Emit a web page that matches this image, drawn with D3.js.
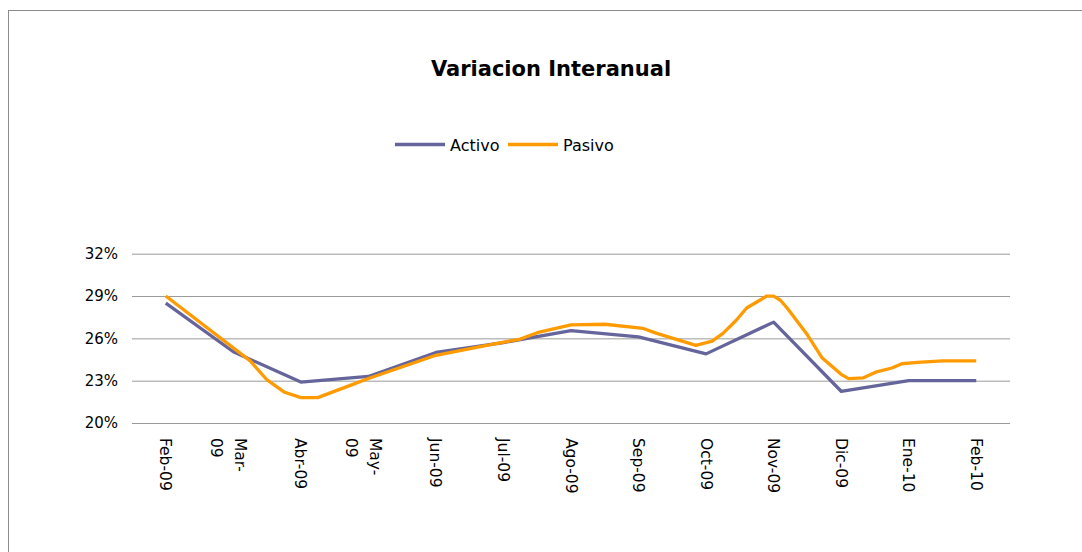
<!DOCTYPE html>
<html>
<head>
<meta charset="utf-8">
<script src="https://cdn.jsdelivr.net/npm/d3@7"></script>
<style>
  body { margin: 0; background: #fff; }
  svg { display: block; font-family: "DejaVu Sans", sans-serif; }
  .chart-title { font-size: 21px; font-weight: bold; }
  .axis text { font-size: 15.5px; fill: #000; }
  .legend text { font-size: 16px; }
</style>
</head>
<body>
<svg width="1082" height="552"></svg>
<script>
const svg = d3.select("svg");

const width = 1082;
const height = 552;

// categories (monthly)
const months = ["Feb-09", "Mar-\n09", "Abr-09", "May-\n09", "Jun-09", "Jul-09", "Ago-09",
    "Sep-09", "Oct-09", "Nov-09", "Dic-09", "Ene-10", "Feb-10"];

// Activo, one value per month (%)
const activo = [28.5, 25.05, 22.9, 23.3, 25.0, 25.7, 26.55, 26.1, 24.9, 27.15, 22.25, 23.0, 23.0];

// Pasivo comes in finer steps: position in months from Feb-09, and value (%)
const pasivoPos = [0, 1.25, 1.5, 1.75, 2, 2.25, 2.75, 3, 4, 4.75, 5.25, 5.5, 6, 6.5, 7.07, 7.27,
    7.85, 8.09, 8.25, 8.45, 8.6, 8.9, 9, 9.1, 9.2, 9.5, 9.72, 10, 10.11, 10.33, 10.51, 10.75,
    10.9, 11.13, 11.5, 12];
const pasivo = [29.0, 24.4, 23.05, 22.2, 21.8, 21.8, 22.7, 23.15, 24.8, 25.5, 25.95, 26.4, 26.95,
    27.0, 26.7, 26.35, 25.5, 25.8, 26.35, 27.3, 28.15, 29.0, 29.0, 28.7, 28.15, 26.25, 24.6,
    23.45, 23.15, 23.2, 23.6, 23.9, 24.2, 24.3, 24.4, 24.4];

const yTicks = [20, 23, 26, 29, 32];

const plot = { left: 132, right: 1010, top: 253.7, bottom: 423 };

// outer frame (runs off the right and bottom edges)
svg.append("rect")
    .attr("x", 8.5)
    .attr("y", 10.5)
    .attr("width", 1200)
    .attr("height", 700)
    .attr("fill", "none")
    .attr("stroke", "#8c8c8c")
    .attr("stroke-width", 1);

const xScale = d3.scaleLinear()
    .domain([-0.5, months.length - 0.5])
    .range([plot.left, plot.right]);

const yScale = d3.scaleLinear()
    .domain([20, 32])
    .range([plot.bottom, plot.top]);

// gridlines + y labels
const yAxis = d3.axisLeft(yScale)
    .tickValues(yTicks)
    .tickFormat(d => d + "%")
    .tickSize(-(plot.right - plot.left))
    .tickPadding(14);

const gy = svg.append("g")
    .attr("class", "axis")
    .attr("transform", `translate(${plot.left}, 0)`)
    .call(yAxis)
    .attr("font-family", null)
    .attr("font-size", null);
gy.select(".domain").remove();
gy.selectAll(".tick line").attr("stroke", "#9a9a9a");
gy.selectAll(".tick text").style("font-size", "15px");

// x labels, rotated to read top to bottom
const gx = svg.append("g")
    .attr("class", "axis");

months.forEach(function(m, i) {
    const lines = m.split("\n");
    const t = gx.append("text")
        .attr("transform", `translate(${xScale(i)}, 438) rotate(90)`)
        .attr("text-anchor", "start");
    if (lines.length === 1) {
        t.append("tspan").attr("x", 0).attr("y", 5.5).text(lines[0]);
    } else {
        t.append("tspan").attr("x", 0).attr("y", -1.5).text(lines[0]);
        t.append("tspan").attr("x", 0).attr("y", 22).text(lines[1]);
    }
});

const line1 = d3.line()
    .x((d, i) => xScale(i))
    .y(d => yScale(d));

const line2 = d3.line()
    .x((d, i) => xScale(pasivoPos[i]))
    .y(d => yScale(d));

svg.append("path")
    .datum(activo)
    .attr("fill", "none")
    .attr("stroke", "#65659b")
    .attr("stroke-width", 3.3)
    .attr("stroke-linejoin", "round")
    .attr("d", line1);

svg.append("path")
    .datum(pasivo)
    .attr("fill", "none")
    .attr("stroke", "#ff9b00")
    .attr("stroke-width", 3.3)
    .attr("stroke-linejoin", "round")
    .attr("d", line2);

svg.append("text")
    .attr("x", 551)
    .attr("y", 76)
    .attr("text-anchor", "middle")
    .attr("class", "chart-title")
    .text("Variacion Interanual");

// legend
const legend = svg.append("g").attr("class", "legend");
const legendItems = [
    { name: "Activo", color: "#65659b", x: 395 },
    { name: "Pasivo", color: "#ff9b00", x: 508 }
];
legendItems.forEach(function(d) {
    legend.append("line")
        .attr("x1", d.x).attr("x2", d.x + 50)
        .attr("y1", 144.5).attr("y2", 144.5)
        .attr("stroke", d.color)
        .attr("stroke-width", 3.3);
    legend.append("text")
        .attr("x", d.x + 55)
        .attr("y", 150.5)
        .text(d.name);
});
</script>
</body>
</html>
